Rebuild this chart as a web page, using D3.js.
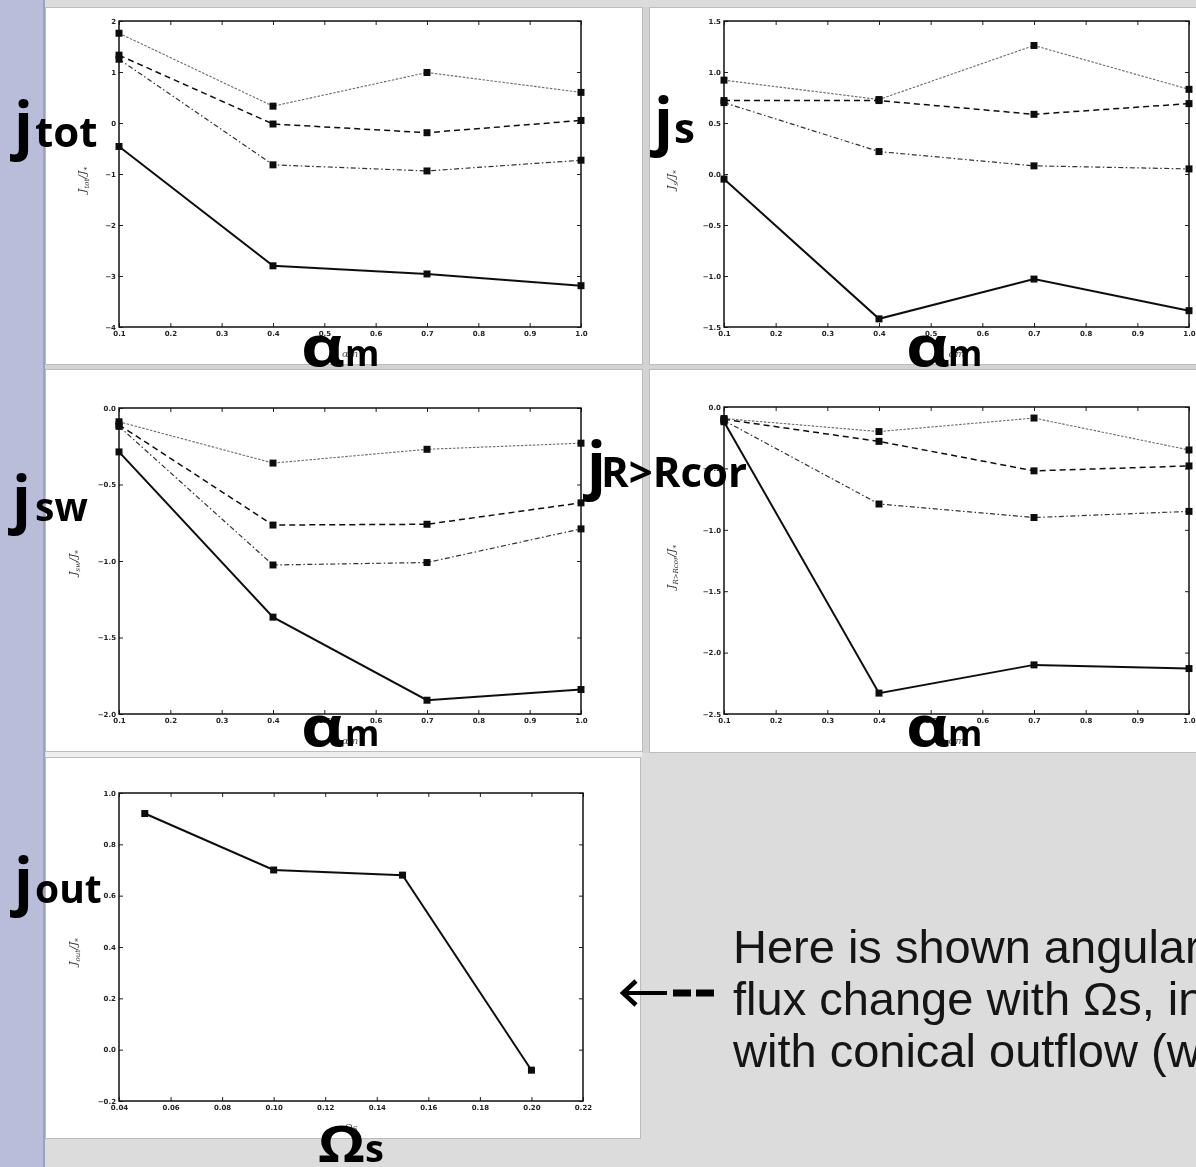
<!DOCTYPE html>
<html>
<head>
<meta charset="utf-8" />
<title>Angular momentum flux panels</title>
<style>
html, body {
    margin: 0;
    padding: 0;
    width: 100%;
    height: 100%;
    background: #dcdcdc;
    overflow: hidden;
}
svg { display: block; }
.tick text {
    font-family: "DejaVu Sans", sans-serif;
    font-weight: bold;
    font-size: 7px;
    fill: #222;
}
.big {
    font-family: "Open Sans", sans-serif;
    font-weight: 700;
    fill: #000;
}
.note {
    font-family: "Liberation Sans", Arial, sans-serif;
    font-size: 47px;
    fill: #151515;
}
</style>
</head>
<body>
<div id="graph"></div>
<script src="https://cdnjs.cloudflare.com/ajax/libs/d3/7.8.5/d3.min.js"></script>
<script>
// x values
var alphaM = [0.1, 0.4, 0.7, 1.0]
var omegaS = [0.05, 0.10, 0.15, 0.20]

// series order in each panel: dotted, dashed, dash-dot, solid
var jTot = [
    [1.76, 0.33, 0.99, 0.60],
    [1.33, -0.02, -0.19, 0.05],
    [1.25, -0.82, -0.94, -0.73],
    [-0.46, -2.80, -2.96, -3.19]
]
var jS = [
    [0.92, 0.73, 1.26, 0.83],
    [0.72, 0.72, 0.585, 0.69],
    [0.70, 0.22, 0.08, 0.05],
    [-0.05, -1.42, -1.03, -1.34]
]
var jSw = [
    [-0.09, -0.36, -0.27, -0.23],
    [-0.11, -0.765, -0.76, -0.62],
    [-0.12, -1.026, -1.01, -0.79],
    [-0.287, -1.367, -1.91, -1.84]
]
var jRcor = [
    [-0.094, -0.20, -0.09, -0.35],
    [-0.10, -0.28, -0.52, -0.48],
    [-0.11, -0.79, -0.90, -0.85],
    [-0.12, -2.33, -2.10, -2.13]
]
var jOut = [0.92, 0.70, 0.68, -0.08]

// tick labels
var alphaTicks = [0.1, 0.2, 0.3, 0.4, 0.5, 0.6, 0.7, 0.8, 0.9, 1.0]
var omegaTicks = [0.04, 0.06, 0.08, 0.10, 0.12, 0.14, 0.16, 0.18, 0.20, 0.22]
var jTotTicks = [-4, -3, -2, -1, 0, 1, 2]
var jSTicks = [-1.5, -1.0, -0.5, 0.0, 0.5, 1.0, 1.5]
var jSwTicks = [-2.0, -1.5, -1.0, -0.5, 0.0]
var jRcorTicks = [-2.5, -2.0, -1.5, -1.0, -0.5, 0.0]
var jOutTicks = [-0.2, 0.0, 0.2, 0.4, 0.6, 0.8, 1.0]

var W = 1196, H = 1167

var svg = d3.select("#graph").append("svg").attr("width", W).attr("height", H)

var defs = svg.append("defs")
defs.append("filter").attr("id", "soft")
    .append("feGaussianBlur").attr("stdDeviation", 0.45)

// slide background
svg.append("rect").attr("width", W).attr("height", H).attr("fill", "#dcdcdc")
svg.append("rect").attr("width", 43).attr("height", H).attr("fill", "#b9bdd9")
svg.append("rect").attr("x", 43).attr("width", 2).attr("height", H).attr("fill", "#9da2bf")

// white picture frames
var frames = [
    [45, 7, 598, 358],
    [649, 7, 560, 358],
    [45, 369, 598, 383],
    [649, 369, 560, 384],
    [45, 757, 596, 382]
]
svg.append("rect").attr("x", 45).attr("y", 365).attr("width", 1160).attr("height", 4).attr("fill", "#d3d3d3")
svg.append("rect").attr("x", 643).attr("y", 7).attr("width", 6).attr("height", 746).attr("fill", "#d3d3d3")
svg.selectAll(".frame").data(frames).enter().append("rect")
    .attr("class", "frame")
    .attr("x", function(d) { return d[0] + 0.5 })
    .attr("y", function(d) { return d[1] + 0.5 })
    .attr("width", function(d) { return d[2] - 1 })
    .attr("height", function(d) { return d[3] - 1 })
    .attr("fill", "#fff")
    .attr("stroke", "#bcbcbc")
svg.append("rect").attr("x", 46).attr("y", 752).attr("width", 596).attr("height", 5).attr("fill", "#eeeeee")

var styles = [
    {stroke: "#6a6a6a", width: 1.1, dash: "2.5,1.5"},
    {stroke: "#111", width: 1.5, dash: "6,4"},
    {stroke: "#333", width: 1.2, dash: "5,2.5,1.5,2.5"},
    {stroke: "#111", width: 2, dash: null}
]

var panels = [
    {series: jTot, xs: alphaM, xDomain: [0.1, 1.0], xTicks: alphaTicks, xFmt: ".1f",
     yDomain: [-4, 2], yTicks: jTotTicks, yFmt: "d", box: [119, 21, 581, 327],
     ylab: "tot", ylabX: 86, ylabY: 180, xlab: ["\u03b1", "m"]},
    {series: jS, xs: alphaM, xDomain: [0.1, 1.0], xTicks: alphaTicks, xFmt: ".1f",
     yDomain: [-1.5, 1.5], yTicks: jSTicks, yFmt: ".1f", box: [724, 21, 1189, 327],
     ylab: "s", ylabX: 675, ylabY: 180, xlab: ["\u03b1", "m"]},
    {series: jSw, xs: alphaM, xDomain: [0.1, 1.0], xTicks: alphaTicks, xFmt: ".1f",
     yDomain: [-2, 0], yTicks: jSwTicks, yFmt: ".1f", box: [119, 408, 581, 714],
     ylab: "sw", ylabX: 77, ylabY: 563, xlab: ["\u03b1", "m"]},
    {series: jRcor, xs: alphaM, xDomain: [0.1, 1.0], xTicks: alphaTicks, xFmt: ".1f",
     yDomain: [-2.5, 0], yTicks: jRcorTicks, yFmt: ".1f", box: [724, 407, 1189, 714],
     ylab: "R>Rcor", ylabX: 675, ylabY: 567, xlab: ["\u03b1", "m"]},
    {series: [jOut], xs: omegaS, xDomain: [0.04, 0.22], xTicks: omegaTicks, xFmt: ".2f",
     yDomain: [-0.2, 1.0], yTicks: jOutTicks, yFmt: ".1f", box: [119, 793, 583, 1101],
     ylab: "out", ylabX: 77, ylabY: 952, xlab: ["\u03a9", "s"], single: true}
]

panels.forEach(drawPanel)

function drawPanel(p) {
    var b = p.box
    var x = d3.scaleLinear().domain(p.xDomain).range([b[0], b[2]])
    var y = d3.scaleLinear().domain(p.yDomain).range([b[3], b[1]])
    var g = svg.append("g").attr("filter", "url(#soft)")

    // ticks on all four sides, pointing inward
    g.append("g").attr("transform", "translate(0," + b[3] + ")")
        .call(d3.axisBottom(x).tickValues(p.xTicks).tickFormat(d3.format(p.xFmt))
            .tickSizeInner(-4).tickSizeOuter(0).tickPadding(4))
    g.append("g").attr("transform", "translate(0," + b[1] + ")")
        .call(d3.axisTop(x).tickValues(p.xTicks).tickFormat("").tickSizeInner(-4).tickSizeOuter(0))
    g.append("g").attr("transform", "translate(" + b[0] + ",0)")
        .call(d3.axisLeft(y).tickValues(p.yTicks).tickFormat(d3.format(p.yFmt))
            .tickSizeInner(-4).tickSizeOuter(0).tickPadding(3))
    g.append("g").attr("transform", "translate(" + b[2] + ",0)")
        .call(d3.axisRight(y).tickValues(p.yTicks).tickFormat("").tickSizeInner(-4).tickSizeOuter(0))
    g.selectAll(".domain").remove()
    g.selectAll(".tick line").attr("stroke", "#222").attr("stroke-width", 1)

    g.append("rect").attr("x", b[0]).attr("y", b[1])
        .attr("width", b[2] - b[0]).attr("height", b[3] - b[1])
        .attr("fill", "none").attr("stroke", "#111").attr("stroke-width", 1.5)

    var line = d3.line().x(function(d, i) { return x(p.xs[i]) }).y(function(d) { return y(d) })

    p.series.forEach(function(vals, k) {
        var st = p.single ? styles[3] : styles[k]
        g.append("path").datum(vals)
            .attr("d", line)
            .attr("fill", "none")
            .attr("stroke", st.stroke)
            .attr("stroke-width", st.width)
            .attr("stroke-dasharray", st.dash)
        g.selectAll(null).data(vals).enter().append("rect")
            .attr("x", function(d, i) { return x(p.xs[i]) - 3.5 })
            .attr("y", function(d) { return y(d) - 3.5 })
            .attr("width", 7).attr("height", 7)
            .attr("fill", "#111")
    })

    // small rotated y label, J_sub/J_*
    var t = g.append("text")
        .attr("transform", "translate(" + p.ylabX + "," + p.ylabY + ") rotate(-90)")
        .attr("text-anchor", "middle")
        .attr("font-family", "DejaVu Serif, serif")
        .attr("font-style", "italic")
        .attr("font-size", 11)
        .attr("fill", "#333")
    t.append("tspan").text("J")
    t.append("tspan").attr("font-size", 7).attr("dy", 3).text(p.ylab)
    t.append("tspan").attr("dy", -3).text("/J")
    t.append("tspan").attr("font-size", 7).attr("dy", 3).text("*")

    // small x label, mostly hidden behind the big one
    var cx = (b[0] + b[2]) / 2
    g.append("text").attr("x", cx).attr("y", b[3] + 30)
        .attr("text-anchor", "middle")
        .attr("font-family", "DejaVu Serif, serif").attr("font-style", "italic")
        .attr("font-size", 10).attr("fill", "#555")
        .text(p.xlab[0] + p.xlab[1])
}

// big overlay labels; lenA stretches the first glyph to the width seen
function bigLabel(x1, y, a, sizeA, x2, b, sizeB, lenA) {
    var ta = svg.append("text").attr("class", "big").attr("x", x1).attr("y", y)
        .attr("font-size", sizeA).text(a)
    if (lenA) ta.attr("textLength", lenA).attr("lengthAdjust", "spacingAndGlyphs")
    svg.append("text").attr("class", "big").attr("x", x2).attr("y", y)
        .attr("font-size", sizeB).text(b)
}

bigLabel(14, 147, "j", 62, 35, "tot", 42)
bigLabel(654, 143, "j", 62, 674, "s", 42)
bigLabel(12, 521, "j", 62, 35, "sw", 39)
bigLabel(587, 487, "j", 62, 601, "R>Rcor", 42)
bigLabel(14, 903, "j", 62, 35, "out", 39)

bigLabel(301, 366, "\u03b1", 56, 345, "m", 35, 44)
bigLabel(906, 366, "\u03b1", 56, 948, "m", 35, 44)
bigLabel(301, 746, "\u03b1", 56, 345, "m", 35, 44)
bigLabel(906, 746, "\u03b1", 56, 948, "m", 35, 44)
bigLabel(318, 1162, "\u03a9", 50, 365, "s", 38, 47)

// note text and arrow
var notes = ["Here is shown angular", "flux change with \u03a9s, in", "with conical outflow (w"]
svg.selectAll(".note").data(notes).enter().append("text")
    .attr("class", "note")
    .attr("x", 733)
    .attr("y", function(d, i) { return 963 + i * 52 })
    .text(function(d) { return d })

var arrow = svg.append("g").attr("stroke", "#000").attr("fill", "none")
arrow.append("path").attr("d", "M636,981 L623,993 L636,1005").attr("stroke-width", 4.5)
arrow.append("path").attr("d", "M624,993 L667,993").attr("stroke-width", 4)
arrow.append("path").attr("d", "M673,993 L691,993 M696,993 L714,993").attr("stroke-width", 7)
</script>
</body>
</html>
